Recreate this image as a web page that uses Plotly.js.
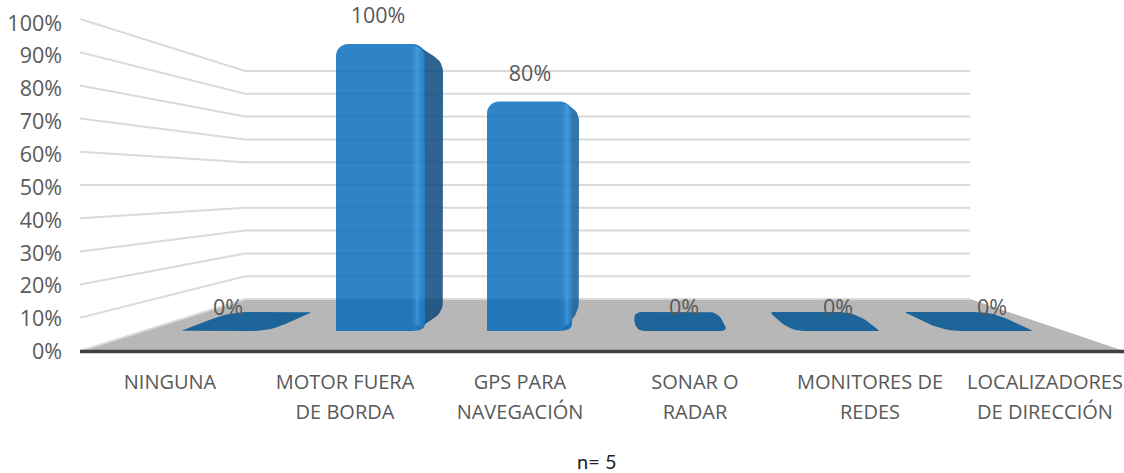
<!DOCTYPE html>
<html>
<head>
<meta charset="utf-8">
<script src="https://cdn.plot.ly/plotly-3.0.1.min.js"></script>
<style>html,body{margin:0;padding:0;background:#fff;overflow:hidden}#chart{width:1124px;height:473px}</style>
</head>
<body>
<div id="chart"></div>
<script>
// ---- data ----
const labelLine1 = ['NINGUNA', 'MOTOR FUERA', 'GPS PARA', 'SONAR O', 'MONITORES DE', 'LOCALIZADORES'];
const labelLine2 = ['', 'DE BORDA', 'NAVEGACIÓN', 'RADAR', 'REDES', 'DE DIRECCIÓN'];
const values = [0, 100, 80, 0, 0, 0];
const valueTicks = [0, 10, 20, 30, 40, 50, 60, 70, 80, 90, 100];
const footnote = 'n= 5';

// ---- perspective geometry of the 3-D box (pixels) ----
const frontLeft  = [181, 336, 487, 636, 791, 944];
const frontRight = [270, 425, 572, 728, 881, 1034];
const backLeft   = [230, 365, 495, 633, 769, 904];
const backRight  = [312, 443, 579, 718, 854, 992];
const highlightInset = [0, 8, 5, 0, 0, 0];
const sideColors = ['', 'rgba(12,75,125,0.86)', 'rgba(18,95,155,0.85)', '', '', ''];
const labelX     = [228, 378, 530, 684, 838, 992];
const wall = {l: 80, bl: 245, br: 970, r: 1124, frontY: 351, frontK: 3.32, backY: 299, backK: 2.28};
const bar3d = {frontY: 331, frontK: 2.87, backY: 312, backK: 2.5};
const plotBottom = 356, tickZero = 351.6, tickK = 3.286, W = 1124, H = 473;

const leftY = v => wall.frontY - wall.frontK * v;
const backY = v => wall.backY - wall.backK * v;
const frontBarY = v => bar3d.frontY - bar3d.frontK * v;
const backBarY = v => bar3d.backY - bar3d.backK * v;

function roundPoly(pts, rMax) {
  const out = {x: [], y: []}, n = pts.length;
  for (let i = 0; i < n; i++) {
    const p = pts[i], a = pts[(i + n - 1) % n], b = pts[(i + 1) % n];
    const la = Math.hypot(a[0]-p[0], a[1]-p[1]), lb = Math.hypot(b[0]-p[0], b[1]-p[1]);
    const cos = ((a[0]-p[0])*(b[0]-p[0]) + (a[1]-p[1])*(b[1]-p[1])) / (la*lb);
    const ang = Math.acos(Math.max(-1, Math.min(1, cos)));
    const r = Math.min(rMax * (ang / Math.PI) * 1.5, la*0.45, lb*0.45);
    const s = [p[0]+(a[0]-p[0])*r/la, p[1]+(a[1]-p[1])*r/la];
    const e = [p[0]+(b[0]-p[0])*r/lb, p[1]+(b[1]-p[1])*r/lb];
    for (let k = 0; k <= 6; k++) {
      const t = k/6, u = 1-t;
      out.x.push(u*u*s[0] + 2*u*t*p[0] + t*t*e[0]);
      out.y.push(u*u*s[1] + 2*u*t*p[1] + t*t*e[1]);
    }
  }
  out.x.push(out.x[0]); out.y.push(out.y[0]);
  return out;
}
const fillTrace = (poly, color, yaxis) => ({
  type: 'scatter', mode: 'lines', x: poly.x, y: poly.y, fill: 'toself', fillcolor: color,
  line: {width: 0, color: color}, hoverinfo: 'skip', xaxis: 'x', yaxis: yaxis || 'y', showlegend: false
});

const traces = [];
// floor
traces.push(fillTrace({x: [wall.l, wall.bl, wall.br, wall.r, wall.l],
  y: [wall.frontY, wall.backY, wall.backY, wall.frontY, wall.frontY]}, '#b7b7b7'));
// walls' gridlines
valueTicks.forEach(v => traces.push({
  type: 'scatter', mode: 'lines', x: [wall.l, wall.bl, wall.br], y: [leftY(v), backY(v), backY(v)],
  line: {color: '#dadada', width: 2}, hoverinfo: 'skip', xaxis: 'x', yaxis: 'y'
}));
// dark front edge of the floor
traces.push({
  type: 'scatter', mode: 'lines', x: [wall.l, wall.r], y: [wall.frontY + 0.6, wall.frontY + 0.6],
  line: {color: '#404040', width: 3.5}, hoverinfo: 'skip', xaxis: 'x', yaxis: 'y'
});
// zero-height bars: only the top face is visible
values.forEach((v, i) => {
  if (v === 0) traces.push(fillTrace(roundPoly([
    [backLeft[i], backBarY(v)], [backRight[i], backBarY(v)],
    [frontRight[i], frontBarY(v)], [frontLeft[i], frontBarY(v)]], 14), '#1c6499'));
});
// side faces of the standing bars
values.forEach((v, i) => {
  if (v > 0) traces.push(fillTrace(roundPoly([
    [frontRight[i]-10, frontBarY(v)], [backRight[i], backBarY(v)],
    [backRight[i], backBarY(0)], [frontRight[i]-10, frontBarY(0)],
    [frontRight[i], frontBarY(0)-6], [frontRight[i], frontBarY(v)+8]], 10), sideColors[i]));
});
// value labels
traces.push({
  type: 'scatter', mode: 'text', x: labelX, y: values.map(v => 309.5 - 2.92 * v),
  text: values.map(v => v + '%'), textposition: 'middle center',
  textfont: {family: '"Open Sans", sans-serif', size: 21.5, color: '#595959'},
  cliponaxis: false, hoverinfo: 'skip', xaxis: 'x', yaxis: 'y'
});
// front faces: real bars
traces.push({
  type: 'bar', x: values.map((v, i) => (frontLeft[i] + frontRight[i]) / 2),
  y: values, width: values.map((v, i) => frontRight[i] - frontLeft[i]),
  marker: {color: 'rgb(0,105,186)', opacity: 0.82, cornerradius: 12, line: {width: 0}},
  hoverinfo: 'skip', xaxis: 'x', yaxis: 'y2'
});
// soft highlight down the front-right edge
values.forEach((v, i) => {
  if (v > 0) [[11, 0.08], [7, 0.12], [4, 0.14], [2, 0.14]].forEach(h => traces.push({
    type: 'scatter', mode: 'lines', x: [frontRight[i]-highlightInset[i], frontRight[i]-highlightInset[i]], y: [2, v - 1],
    line: {color: 'rgba(100,185,255,' + h[1] + ')', width: h[0]}, hoverinfo: 'skip', xaxis: 'x', yaxis: 'y2'
  }));
});
// rounded lower-right corner of the front faces, cut back to the floor colour
values.forEach((v, i) => {
  if (v > 0) {
    const xr = frontRight[i], cx = [], cy = [];
    for (let k = 0; k <= 6; k++) {
      const t = k/6, u = 1-t;
      cx.push(u*u*(xr-13) + 2*u*t*xr + t*t*xr);
      cy.push(u*u*frontBarY(0) + 2*u*t*frontBarY(0) + t*t*(frontBarY(0)-7));
    }
    cx.push(xr + 1, xr + 1, xr - 13); cy.push(frontBarY(0)-6, frontBarY(0) + 0.5, frontBarY(0) + 0.5);
    traces.push(fillTrace({x: cx, y: cy.map(py => (bar3d.frontY - py) / bar3d.frontK)}, '#b7b7b7', 'y2'));
  }
});
// axis carriers
traces.push({type: 'scatter', mode: 'none', x: [0,1,2,3,4,5], y: [0,0,0,0,0,0], xaxis: 'x2', yaxis: 'y3', hoverinfo: 'skip'});
traces.push({type: 'scatter', mode: 'none', x: [0,1,2,3,4,5], y: [0,0,0,0,0,0], xaxis: 'x3', yaxis: 'y3', hoverinfo: 'skip'});

const catRange = [(wall.l - 170) / 175, (wall.r - 170) / 175];
const tickFont = {family: '"Open Sans", sans-serif', size: 20, color: '#595959'};
const catAxis = (text, standoff) => ({
  overlaying: 'x', anchor: 'y', side: 'bottom', range: catRange, type: 'linear', tickmode: 'array',
  tickvals: [0,1,2,3,4,5], ticktext: text, tickfont: tickFont, ticks: '', showgrid: false, zeroline: false,
  showline: false, ticklabelstandoff: standoff, tickangle: 0, fixedrange: true
});

const layout = {
  width: W, height: H, margin: {l: wall.l, r: 0, t: 0, b: H - plotBottom, pad: 0},
  paper_bgcolor: '#fff', plot_bgcolor: '#fff', showlegend: false, hovermode: false, barmode: 'overlay',
  xaxis: {range: [wall.l, wall.r], type: 'linear', showgrid: false, zeroline: false, showticklabels: false, ticks: '',
    showline: false, fixedrange: true},
  yaxis: {range: [plotBottom, 0], type: 'linear', showgrid: false, zeroline: false, showticklabels: false, ticks: '',
    showline: false, fixedrange: true},
  yaxis2: {overlaying: 'y', anchor: 'x', range: [(bar3d.frontY - plotBottom) / bar3d.frontK, bar3d.frontY / bar3d.frontK],
    visible: false, fixedrange: true},
  yaxis3: {overlaying: 'y', anchor: 'x', side: 'left', range: [(tickZero - plotBottom) / tickK, tickZero / tickK], tickmode: 'array',
    tickvals: valueTicks, ticktext: valueTicks.map(v => v + '%'),
    tickfont: {family: '"Open Sans", sans-serif', size: 21.5, color: '#595959'},
    showgrid: false, zeroline: false, showline: false, ticks: '', ticklabelstandoff: 17, fixedrange: true},
  xaxis2: catAxis(labelLine1, 12),
  xaxis3: catAxis(labelLine2, 42),
  annotations: [{
    xref: 'paper', yref: 'paper', x: (596 - wall.l) / (wall.r - wall.l), y: (plotBottom - 461) / plotBottom,
    text: footnote, showarrow: false, xanchor: 'center', yanchor: 'middle',
    font: {family: 'Lato, sans-serif', size: 20, color: '#222'}, align: 'center'
  }]
};
Plotly.newPlot('chart', traces, layout, {displayModeBar: false, staticPlot: true});
</script>
</body>
</html>
